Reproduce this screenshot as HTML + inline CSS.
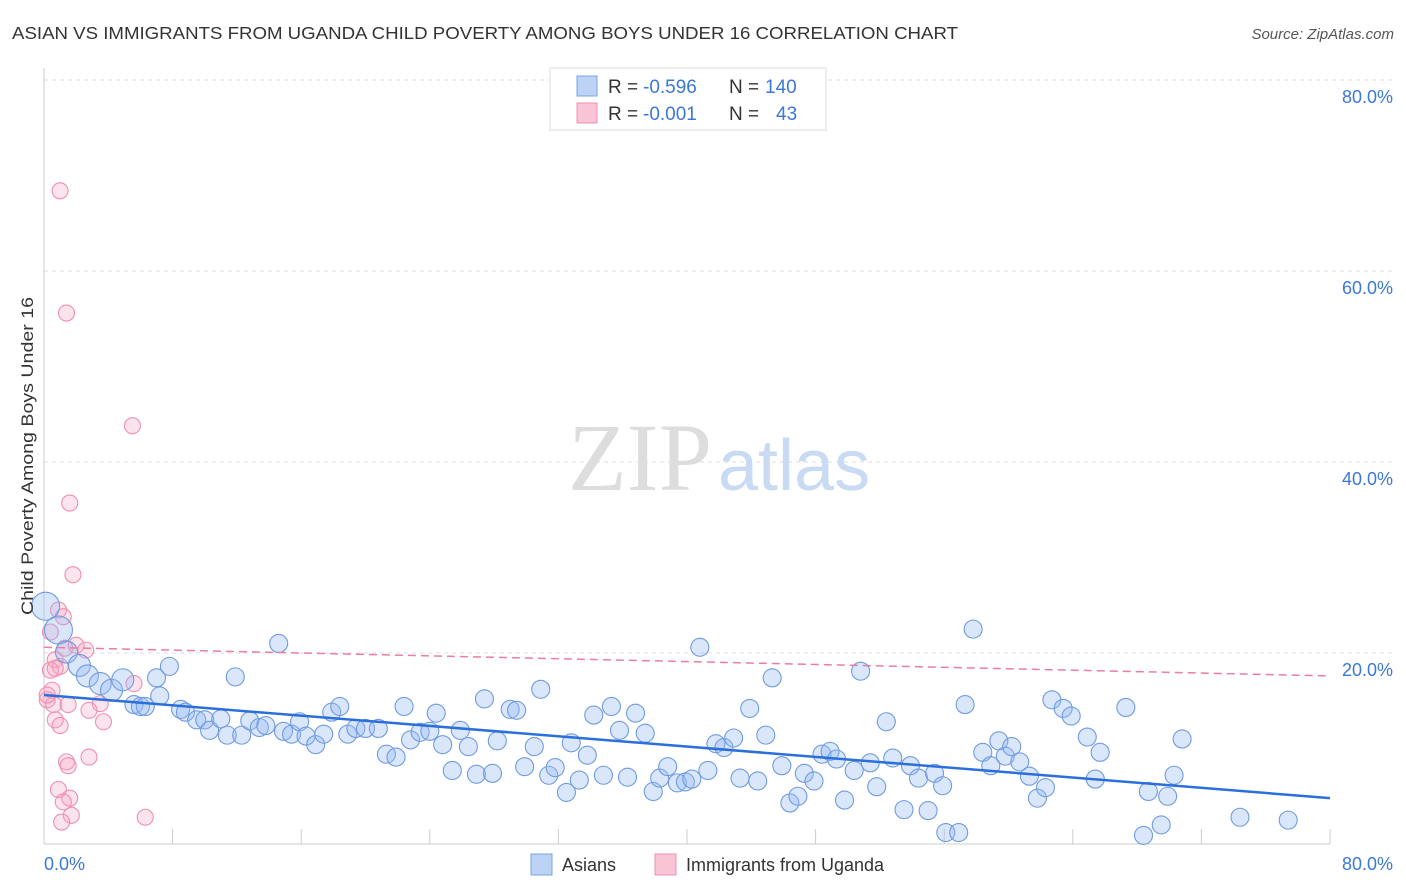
<!DOCTYPE html>
<html><head><meta charset="utf-8"><style>
body{margin:0;background:#fff;font-family:"Liberation Sans",sans-serif;}
svg{display:block}
</style></head><body>
<svg id="chart" width="1406" height="892">
<text x="12" y="39" font-size="17.5" fill="#333" textLength="946" lengthAdjust="spacingAndGlyphs">ASIAN VS IMMIGRANTS FROM UGANDA CHILD POVERTY AMONG BOYS UNDER 16 CORRELATION CHART</text>
<text x="1394" y="39" font-size="15" fill="#555" font-style="italic" text-anchor="end">Source: ZipAtlas.com</text>
<g id="grid"></g>
<text x="712" y="490" font-size="96" fill="#ddd" font-family="Liberation Serif,serif" text-anchor="end">ZIP</text>
<text x="718" y="490" font-size="72" fill="#c9daf3">atlas</text>
<line x1="44" y1="68" x2="44" y2="844" stroke="#ccc"/>
<line x1="44" y1="844" x2="1330" y2="844" stroke="#ccc"/>
<g id="ticks"></g>
<g id="pts"></g>
<g id="trends"></g>
<text x="33" y="456" font-size="17" fill="#333" text-anchor="middle" textLength="318" lengthAdjust="spacingAndGlyphs" transform="rotate(-90 33 456)">Child Poverty Among Boys Under 16</text>
<text x="44" y="870" font-size="18" fill="#3b78d8">0.0%</text>
<text x="1393" y="870" font-size="18" fill="#3b78d8" text-anchor="end">80.0%</text>
<g>
<rect x="550" y="68" width="276" height="62" fill="#fff" stroke="#ddd"/>
<rect x="577" y="76" width="20" height="20" fill="#bcd3f5" stroke="#7aa3e5"/>
<rect x="577" y="103" width="20" height="20" fill="#f9c5d6" stroke="#f08fb0"/>
<text x="608" y="93" font-size="19" fill="#333">R =</text>
<text x="643" y="93" font-size="19" fill="#3b78d8">-0.596</text>
<text x="729" y="93" font-size="19" fill="#333">N =</text>
<text x="765" y="93" font-size="19" fill="#3b78d8">140</text>
<text x="608" y="120" font-size="19" fill="#333">R =</text>
<text x="643" y="120" font-size="19" fill="#3b78d8">-0.001</text>
<text x="729" y="120" font-size="19" fill="#333">N =</text>
<text x="776" y="120" font-size="19" fill="#3b78d8">43</text>
</g>
<g>
<rect x="531" y="854" width="21" height="21" fill="#bcd3f5" stroke="#7aa3e5"/>
<text x="562" y="871" font-size="18" fill="#333">Asians</text>
<rect x="655" y="854" width="21" height="21" fill="#f9c5d6" stroke="#f08fb0"/>
<text x="686" y="871" font-size="18" fill="#333">Immigrants from Uganda</text>
</g>
</svg>
<script>
const yTicks=[20,40,60,80];
const yTickLabels=["20.0%","40.0%","60.0%","80.0%"];
const xTicks=[8,16,24,32,40,48,56,64,72,80];
const asianX=[0.1,0.9,1.4,2.2,2.7,3.5,4.2,4.9,5.6,6.0,6.3,7.0,7.2,7.8,8.5,8.8,9.5,10.0,10.3,11.0,11.4,11.9,12.3,12.8,13.4,13.8,14.6,14.9,15.4,15.9,16.3,16.9,17.4,17.9,18.4,18.9,19.4,20.0,20.8,21.3,21.9,22.4,22.8,23.4,24.0,24.4,24.8,25.4,25.9,26.4,26.9,27.4,27.9,28.2,29.0,29.4,29.9,30.5,30.9,31.4,31.8,32.5,32.8,33.3,33.8,34.2,34.8,35.3,35.8,36.3,36.8,37.4,37.9,38.3,38.8,39.4,39.9,40.3,40.8,41.3,41.8,42.3,42.9,43.3,43.9,44.4,44.9,45.3,45.9,46.4,46.9,47.3,47.9,48.4,48.9,49.3,49.8,50.4,50.8,51.4,51.8,52.4,52.8,53.5,53.9,54.4,55.0,55.4,55.9,56.1,56.9,57.3,57.8,58.4,58.9,59.4,59.8,60.2,60.7,61.3,61.8,62.3,62.7,63.4,63.9,64.9,65.7,65.4,67.3,68.4,68.7,69.5,69.9,70.3,70.8,74.4,77.4];
const asianY=[24.9,22.4,20.1,18.7,17.6,16.8,16.1,17.2,14.6,14.4,14.4,17.4,15.5,18.6,14.1,13.8,13.0,13.0,11.9,13.1,11.4,17.5,11.4,12.9,12.2,12.4,21.0,11.8,11.5,12.8,11.3,10.4,11.5,13.8,14.4,11.5,12.1,12.1,12.1,9.4,9.1,14.4,10.9,11.7,11.8,13.7,10.4,7.7,11.9,10.2,7.3,15.2,7.4,10.8,14.1,14.0,8.1,10.2,16.2,7.2,8.0,5.4,10.6,6.7,9.3,13.5,7.2,14.4,11.9,7.0,13.7,11.6,5.5,6.9,8.1,6.4,6.5,6.8,20.6,7.7,10.5,10.1,11.1,6.9,14.2,6.6,11.4,17.4,8.2,4.3,5.0,7.4,6.6,9.4,9.7,8.9,4.6,7.7,18.1,8.5,6.0,12.8,9.0,3.6,8.2,6.9,3.5,7.4,6.1,1.2,1.2,14.6,22.5,9.6,8.2,10.8,9.2,10.2,8.6,7.1,4.8,5.9,15.1,14.2,13.4,11.2,9.6,6.8,14.3,0.9,5.5,2.0,5.0,7.2,11.0,2.8,2.5];
const ugX=[1.0,1.4,5.5,1.6,1.8,0.9,1.2,0.4,1.3,2.0,2.6,0.7,1.0,0.4,0.5,0.2,0.6,1.5,0.7,1.0,3.5,2.8,3.7,5.6,1.4,1.5,2.8,0.9,1.6,1.2,1.7,1.1,6.3,0.2,0.7];
const ugY=[68.4,55.6,43.8,35.7,28.2,24.5,23.8,22.2,20.5,20.8,20.3,19.3,18.6,18.2,16.1,15.1,14.6,14.6,13.0,12.4,14.7,14.0,12.8,16.8,8.6,8.2,9.1,5.7,4.8,4.4,3.0,2.3,2.8,15.6,18.4];
const asianTrend=[15.6,4.8];
const ugTrend=[20.6,17.6];
const NS="http://www.w3.org/2000/svg";
const X=v=>44+v*(1286/80), Y=v=>844-v*(764/80);
function mk(t,a,p){const e=document.createElementNS(NS,t);for(const k in a)e.setAttribute(k,a[k]);p.appendChild(e);return e;}
const grid=document.getElementById('grid');
yTicks.forEach((t,i)=>{
 const l=mk('line',{x1:44,x2:1394,y1:Y(t),y2:Y(t),stroke:'#ddd','stroke-dasharray':'4 4'},grid);
 
 
 const tx=mk('text',{x:1393,y:Y(t)+23,'font-size':18,fill:'#3b78d8','text-anchor':'end'},grid);
 tx.textContent=yTickLabels[i];
 
 
});
const tk=document.getElementById('ticks');
xTicks.forEach(t=>{const l=mk('line',{x1:X(t),x2:X(t),y1:829,y2:844,stroke:'#ccc'},tk);
 
 });
const pts=document.getElementById('pts');
ugX.forEach((x,i)=>{const c=mk('circle',{cx:X(x),cy:Y(ugY[i]),r:8,fill:'rgba(245,165,195,0.3)',stroke:'#f08fb0','stroke-width':1.1},pts);
 
 });
asianX.forEach((x,i)=>{const r=i<2?14:(i<8?11:9);const c=mk('circle',{cx:X(x),cy:Y(asianY[i]),r:r,fill:'rgba(150,185,240,0.35)',stroke:'#6f9be0','stroke-width':1.1},pts);
 
 });
const tr=document.getElementById('trends');
const a=mk('line',{x1:X(0),y1:Y(asianTrend[0]),x2:X(80),y2:Y(asianTrend[1]),stroke:'#2a6fdb','stroke-width':2.5},tr);


const u=mk('line',{x1:X(0),y1:Y(ugTrend[0]),x2:X(80),y2:Y(ugTrend[1]),stroke:'#e87fa0','stroke-width':1.5,'stroke-dasharray':'8 5'},tr);


</script>
</body></html>
